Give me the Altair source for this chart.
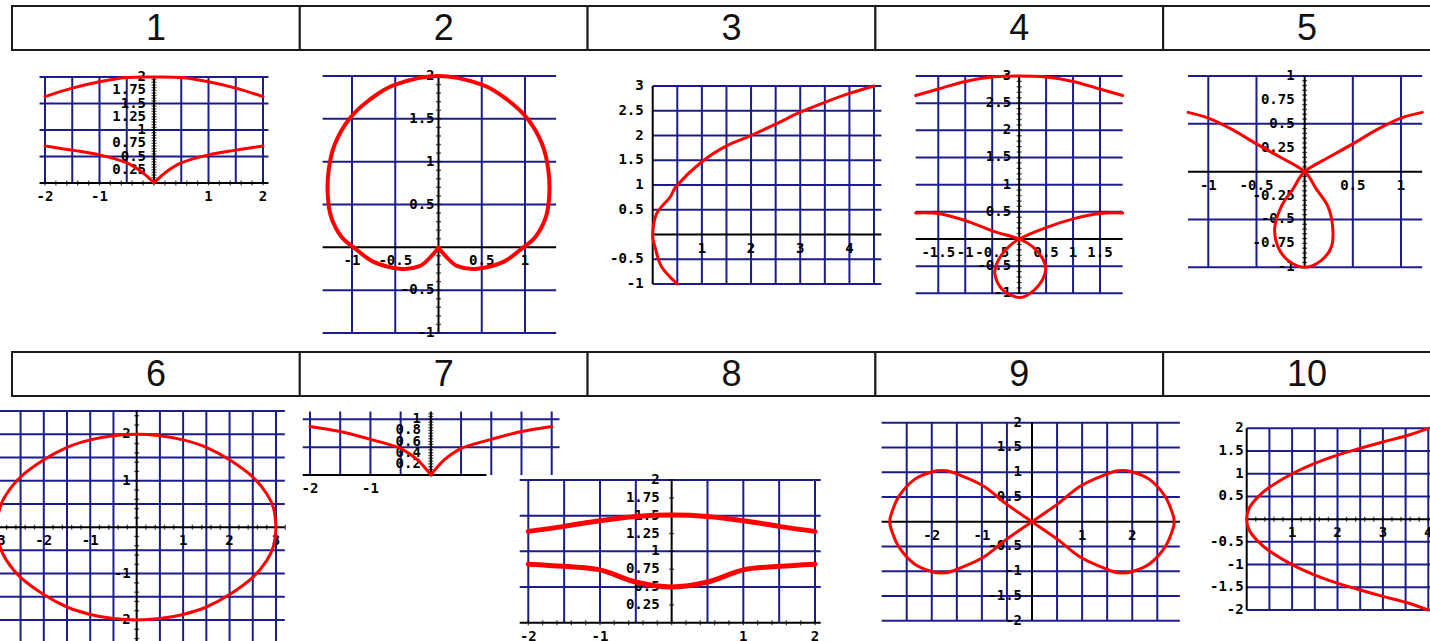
import altair as alt
import numpy as np
import pandas as pd

GRID = "#1c1c8c"
CURVE = "#ff0000"
INK = "#000000"
TICK_FONT = "DejaVu Sans Mono"
HEAD_FONT = "Liberation Sans"

# ---------------- header rows ----------------
ROW1 = ["1", "2", "3", "4", "5"]
ROW2 = ["6", "7", "8", "9", "10"]

# ---------------- panel 1 ----------------
P1_GX = [-2, -1.5, -1, -0.5, 0.5, 1, 1.5, 2]
P1_GY = [0.5, 1, 1.5, 2]
P1_XT = [-2, -1, 1, 2]
P1_YT = [0.25, 0.5, 0.75, 1, 1.25, 1.5, 1.75, 2]
P1_UP_X = [-2, -1.5, -1, -0.5, 0, 0.5, 1, 1.5, 2]
P1_UP_Y = [1.63, 1.79, 1.91, 1.99, 2.0, 1.99, 1.91, 1.79, 1.63]
P1_LOW_L_X = [-2, -1.5, -1, -0.5, -0.2, 0]
P1_LOW_L_Y = [0.70, 0.62, 0.53, 0.38, 0.19, 0]
P1_LOW_R_X = [0, 0.2, 0.5, 1, 1.5, 2]
P1_LOW_R_Y = [0, 0.19, 0.38, 0.53, 0.62, 0.70]

# ---------------- panel 2 ----------------
P2_GX = [-1, -0.5, 0.5, 1]
P2_GY = [-1, -0.5, 0.5, 1, 1.5, 2]
P2_XT = [-1, -0.5, 0.5, 1]
P2_YT = [-1, -0.5, 0.5, 1, 1.5, 2]
P2_X = [0, 0.08, 0.22, 0.45, 0.75, 0.98, 1.12, 1.24, 1.28, 1.27, 1.2, 1.03, 0.8, 0.5, 0,
        -0.5, -0.8, -1.03, -1.2, -1.27, -1.28, -1.24, -1.12, -0.98, -0.75, -0.45, -0.22, -0.08, 0]
P2_Y = [0, -0.1, -0.22, -0.25, -0.17, 0.0, 0.12, 0.35, 0.6, 0.9, 1.2, 1.5, 1.72, 1.9, 2.0,
        1.9, 1.72, 1.5, 1.2, 0.9, 0.6, 0.35, 0.12, 0.0, -0.17, -0.25, -0.22, -0.1, 0]

# ---------------- panel 3 ----------------
P3_GX = [0.5, 1, 1.5, 2, 2.5, 3, 3.5, 4, 4.5]
P3_GY = [-1, -0.5, 0.5, 1, 1.5, 2, 2.5, 3]
P3_XT = [1, 2, 3, 4]
P3_YT = [-1, -0.5, 0.5, 1, 1.5, 2, 2.5, 3]
P3_X = [0.5, 0.18, 0.05, 0, 0.08, 0.35, 0.5, 1.0, 1.5, 2.0, 2.5, 3.0, 3.5, 4.0, 4.5]
P3_Y = [-1, -0.65, -0.26, 0, 0.42, 0.75, 1, 1.47, 1.79, 2.0, 2.23, 2.47, 2.67, 2.85, 3.0]

# ---------------- panel 4 ----------------
P4_GX = [-1.5, -1, -0.5, 0.5, 1, 1.5]
P4_GY = [-1, -0.5, 0.5, 1, 1.5, 2, 2.5, 3]
P4_XT = [-1.5, -1, -0.5, 0.5, 1, 1.5]
P4_YT = [-1, -0.5, 0.5, 1, 1.5, 2, 2.5, 3]
P4_TOP_X = [-1.92, -1.5, -1, -0.5, 0, 0.5, 1, 1.5, 1.92]
P4_TOP_Y = [2.64, 2.76, 2.9, 2.98, 3.0, 2.98, 2.9, 2.76, 2.64]
P4_MID_X = [-1.92, -1.5, -1.0, -0.5, 0, 0.26, 0.44, 0.49, 0.38, 0.14, -0.05, -0.32, -0.45, -0.39,
            -0.23, 0, 0.5, 1.0, 1.5, 1.92]
P4_MID_Y = [0.48, 0.47, 0.34, 0.15, 0, -0.15, -0.37, -0.58, -0.83, -1.04, -1.07, -0.92, -0.64, -0.40,
            -0.18, 0, 0.21, 0.37, 0.47, 0.48]

# ---------------- panel 5 ----------------
P5_GX = [-1, -0.5, 0.5, 1]
P5_GY = [-1, -0.5, 0.5, 1]
P5_XT = [-1, -0.5, 0.5, 1]
P5_YT = [-1, -0.75, -0.5, -0.25, 0.25, 0.5, 0.75, 1]
P5_X = [-1.21, -1, -0.75, -0.5, -0.25, 0, 0.12, 0.24, 0.29, 0.28, 0.17, 0, -0.17, -0.28, -0.31,
        -0.24, -0.12, 0, 0.25, 0.5, 0.75, 1, 1.22]
P5_Y = [0.62, 0.56, 0.44, 0.29, 0.15, 0, -0.18, -0.36, -0.57, -0.78, -0.93, -1.0, -0.93, -0.78, -0.58,
        -0.36, -0.18, 0, 0.15, 0.29, 0.44, 0.56, 0.62]

# ---------------- panel 6 ----------------
P6_GX = [-3, -2.5, -2, -1.5, -1, -0.5, 0.5, 1, 1.5, 2, 2.5, 3]
P6_GY = [-2.5, -2, -1.5, -1, -0.5, 0.5, 1, 1.5, 2, 2.5]
P6_XT = [-3, -2, -1, 1, 2, 3]
P6_YT = [-2, -1, 1, 2]
P6_X = [3, 2.95, 2.8, 2.5, 2, 1.5, 1, 0.5, 0, -0.5, -1, -1.5, -2, -2.5, -2.8, -2.95, -3,
        -2.95, -2.8, -2.5, -2, -1.5, -1, -0.5, 0, 0.5, 1, 1.5, 2, 2.5, 2.8, 2.95, 3]
P6_Y = [0, 0.4, 0.72, 1.08, 1.45, 1.72, 1.88, 1.97, 2.0, 1.97, 1.88, 1.72, 1.45, 1.08, 0.72, 0.4, 0,
        -0.4, -0.72, -1.08, -1.45, -1.72, -1.88, -1.97, -2.0, -1.97, -1.88, -1.72, -1.45, -1.08, -0.72, -0.4, 0]

# ---------------- panel 7 ----------------
P7_GX = [-2, -1.5, -1, -0.5, 0.5, 1, 1.5, 2]
P7_GY = [0.5, 1]
P7_XT = [-2, -1]
P7_YT = [0.2, 0.4, 0.6, 0.8, 1]
P7_L_X = [-2, -1.5, -1, -0.67, -0.47, -0.22, 0]
P7_L_Y = [0.87, 0.78, 0.64, 0.54, 0.46, 0.27, 0]
P7_R_X = [0, 0.22, 0.47, 0.67, 1, 1.5, 2]
P7_R_Y = [0, 0.27, 0.46, 0.54, 0.64, 0.78, 0.87]

# ---------------- panel 8 ----------------
P8_GX = [-2, -1.5, -1, -0.5, 0.5, 1, 1.5, 2]
P8_GY = [0.5, 1, 1.5, 2]
P8_XT = [-2, -1, 1, 2]
P8_YT = [0.25, 0.5, 0.75, 1, 1.25, 1.5, 1.75, 2]
P8_X = [-2, -1.5, -1, -0.5, 0, 0.5, 1, 1.5, 2]
P8_UP_Y = [1.28, 1.35, 1.43, 1.49, 1.51, 1.49, 1.43, 1.35, 1.28]
P8_LOW_Y = [0.82, 0.79, 0.74, 0.57, 0.5, 0.57, 0.74, 0.79, 0.82]

# ---------------- panel 9 ----------------
P9_GX = [-2.5, -2, -1.5, -1, -0.5, 0.5, 1, 1.5, 2, 2.5]
P9_GY = [-2, -1.5, -1, -0.5, 0.5, 1, 1.5, 2]
P9_XT = [-2, -1, 1, 2]
P9_YT = [-2, -1.5, -1, -0.5, 0.5, 1, 1.5, 2]
P9_X = [0, 0.5, 0.97, 1.49, 1.72, 1.99, 2.35, 2.65, 2.8, 2.84, 2.8, 2.65, 2.35, 1.99, 1.72, 1.49, 0.97, 0.5,
        0, -0.5, -0.97, -1.49, -1.72, -1.99, -2.35, -2.65, -2.8, -2.84, -2.8, -2.65, -2.35, -1.99, -1.72,
        -1.49, -0.97, -0.5, 0]
P9_Y = [0, 0.35, 0.72, 0.96, 1.03, 1.01, 0.85, 0.52, 0.18, 0, -0.18, -0.52, -0.85, -1.01, -1.03, -0.96,
        -0.72, -0.35, 0, 0.35, 0.72, 0.96, 1.03, 1.01, 0.85, 0.52, 0.18, 0, -0.18, -0.52, -0.85, -1.01,
        -1.03, -0.96, -0.72, -0.35, 0]

# ---------------- panel 10 ----------------
P10_GX = [0.5, 1, 1.5, 2, 2.5, 3, 3.5, 4, 4.5]
P10_GY = [-2, -1.5, -1, -0.5, 0.5, 1, 1.5, 2]
P10_XT = [1, 2, 3, 4]
P10_YT = [-2, -1.5, -1, -0.5, 0.5, 1, 1.5, 2]
P10_X = [4, 3.5, 3, 2.5, 2, 1.5, 1, 0.5, 0.25, 0.06, 0, 0.06, 0.25, 0.5, 1, 1.5, 2, 2.5, 3, 3.5, 4]
P10_Y = [2, 1.83, 1.70, 1.56, 1.41, 1.23, 1, 0.7, 0.49, 0.25, 0, -0.25, -0.49, -0.7, -1, -1.23, -1.41,
         -1.56, -1.70, -1.83, -2]

# ---------------- placement of each panel on the page (pixels) ----------------
LAYOUT = {
    1: dict(xd=[-2, 2], xr=[45, 263], yd=[0, 2], yr=[183, 77], hspan=[-2.1, 2.1], vspan=[0, 2],
            xaxis=[-2.1, 2.1], yaxis=[0, 2], gap=8, lw=3, xminor=(-2, 2, 0.2), yminor=(0, 2, 0.05)),
    2: dict(xd=[-1, 1], xr=[352, 525], yd=[-1, 2], yr=[333, 76], hspan=[-1.34, 1.36], vspan=[-1, 2],
            xaxis=[-1.34, 1.36], yaxis=[-1, 2], gap=4, lw=4, xminor=None, yminor=(-1, 2, 0.1)),
    3: dict(xd=[0, 4.5], xr=[652.7, 874], yd=[-1, 3], yr=[284, 86], hspan=[0, 4.65], vspan=[-1, 3],
            xaxis=[0, 4.65], yaxis=[-1, 3], gap=9, lw=3, xminor=None, yminor=None),
    4: dict(xd=[-1.5, 1.5], xr=[938.3, 1100], yd=[-1, 3], yr=[293.3, 76], hspan=[-1.92, 1.92],
            vspan=[-1, 3], xaxis=[-1.92, 1.92], yaxis=[-1, 3], gap=8, lw=3, xminor=None,
            yminor=(-1, 3, 0.1)),
    5: dict(xd=[-1, 1], xr=[1208.3, 1401], yd=[-1, 1], yr=[267.3, 76], hspan=[-1.21, 1.22],
            vspan=[-1, 1], xaxis=[-1.21, 1.22], yaxis=[-1, 1], gap=10, lw=3, xminor=None,
            yminor=(-1, 1, 0.05)),
    6: dict(xd=[-3, 3], xr=[-2.65, 276], yd=[-2, 2], yr=[620, 434.3], hspan=[-3.5, 3.19],
            vspan=[-2.6, 2.5], xaxis=[-3.5, 3.19], yaxis=[-2.6, 2.52], gap=6, lw=3,
            xminor=(-3.4, 3.2, 0.2), yminor=(-2.6, 2.4, 0.2)),
    7: dict(xd=[-2, 2], xr=[310, 551.7], yd=[0, 1], yr=[475, 419.3], hspan=[-2.12, 2.13],
            vspan=[0, 1.14], xaxis=[-2.12, 0.92], yaxis=[0, 1.14], gap=10, lw=3, xminor=None,
            yminor=(0, 1.1, 0.05)),
    8: dict(xd=[-2, 2], xr=[528.3, 815], yd=[0, 2], yr=[622.7, 480], hspan=[-2.12, 2.08],
            vspan=[0, 2], xaxis=[-2.12, 2.08], yaxis=[0, 2], gap=12, lw=5, xminor=(-2, 2, 0.2),
            yminor=(0, 2, 0.25)),
    9: dict(xd=[-2.5, 2.5], xr=[906.7, 1157.3], yd=[-2, 2], yr=[620.7, 422.7], hspan=[-3.0, 2.95],
            vspan=[-2, 2], xaxis=[-3.0, 2.95], yaxis=[-2, 2], gap=10, lw=3, xminor=None, yminor=None),
    10: dict(xd=[0, 4], xr=[1246.7, 1428.3], yd=[-2, 2], yr=[610, 428.3], hspan=[0, 4.6],
             vspan=[-2, 2], xaxis=[0, 4.6], yaxis=[-2, 2], gap=3, lw=3, xminor=(0, 4.6, 0.2),
             yminor=None),
}

PANELS = {
    1: dict(gx=P1_GX, gy=P1_GY, xt=P1_XT, yt=P1_YT,
            curves=[(P1_UP_X, P1_UP_Y), (P1_LOW_L_X, P1_LOW_L_Y), (P1_LOW_R_X, P1_LOW_R_Y)]),
    2: dict(gx=P2_GX, gy=P2_GY, xt=P2_XT, yt=P2_YT, curves=[(P2_X, P2_Y)]),
    3: dict(gx=P3_GX, gy=P3_GY, xt=P3_XT, yt=P3_YT, curves=[(P3_X, P3_Y)]),
    4: dict(gx=P4_GX, gy=P4_GY, xt=P4_XT, yt=P4_YT,
            curves=[(P4_TOP_X, P4_TOP_Y), (P4_MID_X, P4_MID_Y)]),
    5: dict(gx=P5_GX, gy=P5_GY, xt=P5_XT, yt=P5_YT, curves=[(P5_X, P5_Y)]),
    6: dict(gx=P6_GX, gy=P6_GY, xt=P6_XT, yt=P6_YT, curves=[(P6_X, P6_Y)]),
    7: dict(gx=P7_GX, gy=P7_GY, xt=P7_XT, yt=P7_YT, curves=[(P7_L_X, P7_L_Y), (P7_R_X, P7_R_Y)]),
    8: dict(gx=P8_GX, gy=P8_GY, xt=P8_XT, yt=P8_YT, curves=[(P8_X, P8_UP_Y), (P8_X, P8_LOW_Y)]),
    9: dict(gx=P9_GX, gy=P9_GY, xt=P9_XT, yt=P9_YT, curves=[(P9_X, P9_Y)]),
    10: dict(gx=P10_GX, gy=P10_GY, xt=P10_XT, yt=P10_YT, curves=[(P10_X, P10_Y)]),
}


def fmt(v):
    return f"{v:g}"


def minor(spec):
    a, b, step = spec
    return [round(v, 3) for v in np.arange(a, b + 1e-9, step)]


def build_panel(lay, dat):
    sx = alt.Scale(domain=lay["xd"], range=lay["xr"], nice=False, zero=False)
    sy = alt.Scale(domain=lay["yd"], range=lay["yr"], nice=False, zero=False)

    def X(f):
        return alt.X(f, type="quantitative", scale=sx, axis=None)

    def Y(f):
        return alt.Y(f, type="quantitative", scale=sy, axis=None)

    out = []
    # grid
    h = pd.DataFrame({"y": dat["gy"], "x0": lay["hspan"][0], "x1": lay["hspan"][1]})
    out.append(alt.Chart(h).mark_rule(color=GRID, strokeWidth=2)
               .encode(x=X("x0"), x2=alt.X2("x1"), y=Y("y")))
    v = pd.DataFrame({"x": dat["gx"], "y0": lay["vspan"][0], "y1": lay["vspan"][1]})
    out.append(alt.Chart(v).mark_rule(color=GRID, strokeWidth=2)
               .encode(x=X("x"), y=Y("y0"), y2=alt.Y2("y1")))
    # axes
    ax = pd.DataFrame({"x0": [lay["xaxis"][0]], "x1": [lay["xaxis"][1]], "y": [0]})
    out.append(alt.Chart(ax).mark_rule(color=INK, strokeWidth=2)
               .encode(x=X("x0"), x2=alt.X2("x1"), y=Y("y")))
    ay = pd.DataFrame({"x": [0], "y0": [lay["yaxis"][0]], "y1": [lay["yaxis"][1]]})
    out.append(alt.Chart(ay).mark_rule(color=INK, strokeWidth=2)
               .encode(x=X("x"), y=Y("y0"), y2=alt.Y2("y1")))
    # minor ticks
    if lay["xminor"]:
        t = pd.DataFrame({"x": minor(lay["xminor"]), "y": 0})
        out.append(alt.Chart(t).mark_tick(orient="vertical", size=5, thickness=1.3, color=INK)
                   .encode(x=X("x"), y=Y("y")))
    if lay["yminor"]:
        t = pd.DataFrame({"x": 0, "y": minor(lay["yminor"])})
        out.append(alt.Chart(t).mark_tick(orient="horizontal", size=5, thickness=1.3, color=INK)
                   .encode(x=X("x"), y=Y("y")))
    # tick labels
    xl = pd.DataFrame({"x": dat["xt"], "y": 0, "t": [fmt(a) for a in dat["xt"]]})
    out.append(alt.Chart(xl).mark_text(font=TICK_FONT, fontSize=14, fontWeight="bold", color=INK,
                                       align="center", baseline="top", dy=7)
               .encode(x=X("x"), y=Y("y"), text="t:N"))
    yl = pd.DataFrame({"x": 0, "y": dat["yt"], "t": [fmt(a) for a in dat["yt"]]})
    out.append(alt.Chart(yl).mark_text(font=TICK_FONT, fontSize=14, fontWeight="bold", color=INK,
                                       align="right", baseline="middle", dx=-lay["gap"])
               .encode(x=X("x"), y=Y("y"), text="t:N"))
    # curves
    rows = []
    for s, (cx, cy) in enumerate(dat["curves"]):
        for i, (a, b) in enumerate(zip(cx, cy)):
            rows.append({"x": a, "y": b, "seg": s, "i": i})
    c = pd.DataFrame(rows)
    out.append(alt.Chart(c).mark_line(color=CURVE, strokeWidth=lay["lw"], interpolate="cardinal",
                                      strokeCap="round", strokeJoin="round")
               .encode(x=X("x"), y=Y("y"), detail="seg:N", order="i:Q"))
    return out


def header(labels, top, bottom):
    sx = alt.Scale(domain=labels, range=[12, 1451], paddingInner=0, paddingOuter=0)
    df = pd.DataFrame({"lab": labels})
    xenc = alt.X("lab:N", scale=sx, axis=None, sort=labels)
    box = (alt.Chart(df).mark_rect(fill="white", stroke="#1a1a1a", strokeWidth=2)
           .encode(x=xenc, y=alt.value(top), y2=alt.value(bottom)))
    txt = (alt.Chart(df).mark_text(font=HEAD_FONT, fontSize=36, color="#111111", baseline="middle")
           .encode(x=xenc, y=alt.value((top + bottom) / 2 + 1), text="lab:N"))
    return [box, txt]


layers = []
for k in range(1, 11):
    layers += build_panel(LAYOUT[k], PANELS[k])
layers += header(ROW1, 6, 50)
layers += header(ROW2, 352, 396)

chart = (alt.layer(*layers)
         .resolve_scale(x="independent", y="independent")
         .properties(width=1430, height=641, padding=0, autosize=alt.AutoSizeParams(type="none"))
         .configure_view(stroke=None))

chart.save("out.html", embed_options={"renderer": "svg", "actions": False})
